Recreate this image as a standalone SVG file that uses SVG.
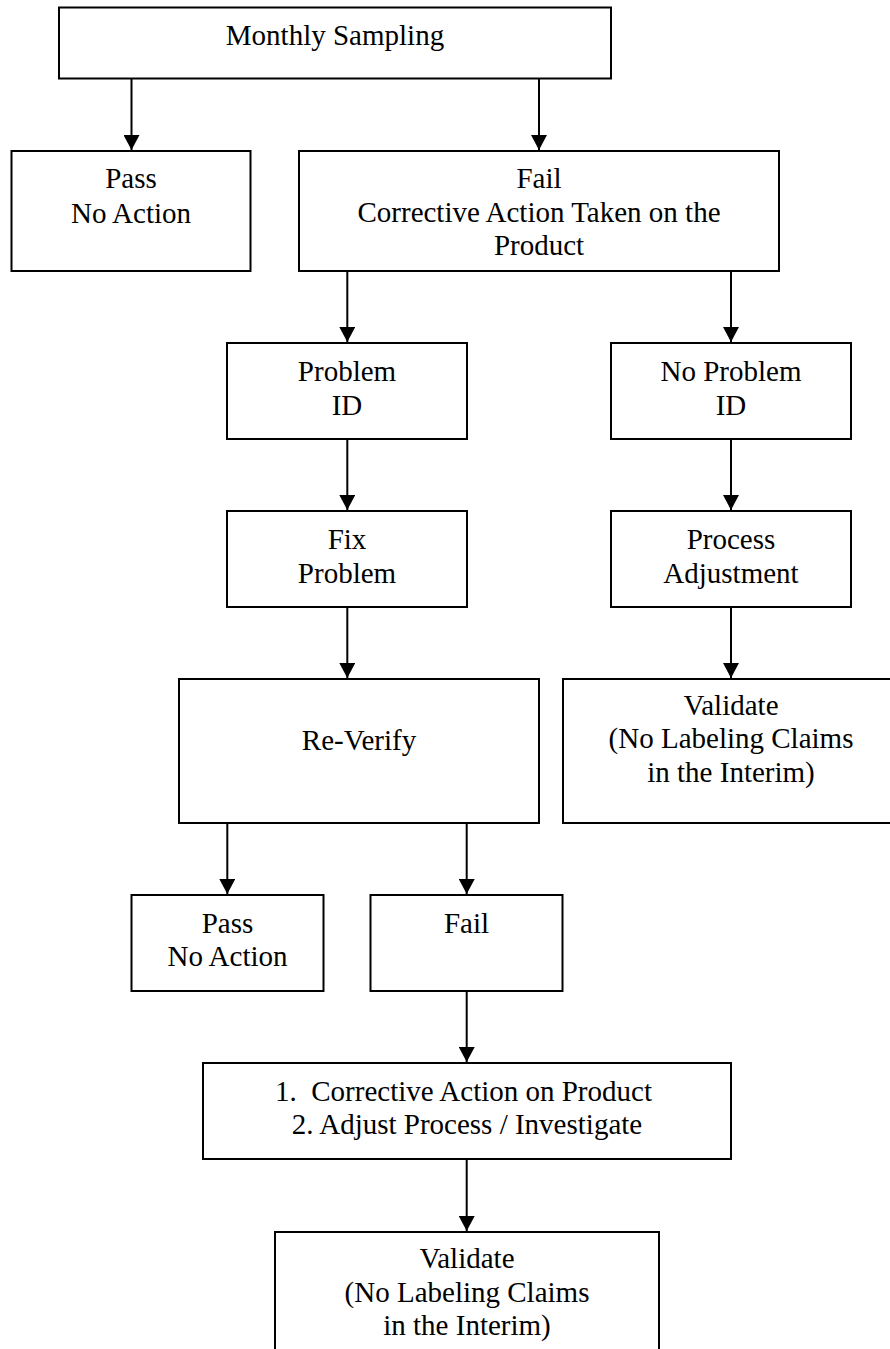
<svg xmlns="http://www.w3.org/2000/svg" width="890" height="1349" viewBox="0 0 890 1349">
<style>
.box{fill:#fff;stroke:#000;stroke-width:2}
.t{font-family:"Liberation Serif","Times New Roman",serif;font-size:29px;fill:#000;text-anchor:middle}
.c{stroke:#000;stroke-width:2;fill:none;marker-end:url(#ah)}
</style>
<defs>
<marker id="ah" markerUnits="userSpaceOnUse" viewBox="0 0 15 16" markerWidth="15" markerHeight="16" refX="15" refY="8" orient="auto">
<path d="M0,0 L15,8 L0,16 z" fill="#000"/>
</marker>
</defs>
<rect width="890" height="1349" fill="#fff"/>
<g id="connectors">
<line class="c" x1="131.5" y1="79" x2="131.5" y2="150"/>
<line class="c" x1="539" y1="79" x2="539" y2="150"/>
<line class="c" x1="347.3" y1="271" x2="347.3" y2="342"/>
<line class="c" x1="731" y1="271" x2="731" y2="342"/>
<line class="c" x1="347.3" y1="439" x2="347.3" y2="510"/>
<line class="c" x1="731" y1="439" x2="731" y2="510"/>
<line class="c" x1="347.3" y1="607" x2="347.3" y2="678"/>
<line class="c" x1="731" y1="607" x2="731" y2="678"/>
<line class="c" x1="227.3" y1="823" x2="227.3" y2="894"/>
<line class="c" x1="466.7" y1="823" x2="466.7" y2="894"/>
<line class="c" x1="466.7" y1="991" x2="466.7" y2="1062"/>
<line class="c" x1="466.7" y1="1159" x2="466.7" y2="1231"/>
</g>
<g id="monthly">
<rect class="box" x="59" y="7.5" width="552" height="71"/>
<text class="t" x="335" y="45">Monthly Sampling</text>
</g>
<g id="pass1">
<rect class="box" x="11.5" y="151" width="239" height="120"/>
<text class="t" x="131" y="188">Pass</text>
<text class="t" x="131" y="222.5">No Action</text>
</g>
<g id="fail1">
<rect class="box" x="299" y="151" width="480" height="120"/>
<text class="t" x="539" y="188">Fail</text>
<text class="t" x="539" y="221.5">Corrective Action Taken on the</text>
<text class="t" x="539" y="255">Product</text>
</g>
<g id="problem-id">
<rect class="box" x="227" y="343" width="240" height="96"/>
<text class="t" x="347" y="381">Problem</text>
<text class="t" x="347" y="415">ID</text>
</g>
<g id="no-problem-id">
<rect class="box" x="611" y="343" width="240" height="96"/>
<text class="t" x="731" y="381">No Problem</text>
<text class="t" x="731" y="415">ID</text>
</g>
<g id="fix-problem">
<rect class="box" x="227" y="511" width="240" height="96"/>
<text class="t" x="347" y="549">Fix</text>
<text class="t" x="347" y="582.5">Problem</text>
</g>
<g id="process-adjustment">
<rect class="box" x="611" y="511" width="240" height="96"/>
<text class="t" x="731" y="549">Process</text>
<text class="t" x="731" y="582.5">Adjustment</text>
</g>
<g id="re-verify">
<rect class="box" x="179" y="679" width="360" height="144"/>
<text class="t" x="359" y="750">Re-Verify</text>
</g>
<g id="validate1">
<rect class="box" x="563" y="679" width="336" height="144"/>
<text class="t" x="731" y="714.5">Validate</text>
<text class="t" x="731" y="748">(No Labeling Claims</text>
<text class="t" x="731" y="781.5">in the Interim)</text>
</g>
<g id="pass2">
<rect class="box" x="131.5" y="895" width="192" height="96"/>
<text class="t" x="227.5" y="933">Pass</text>
<text class="t" x="227.5" y="966">No Action</text>
</g>
<g id="fail2">
<rect class="box" x="370.5" y="895" width="192" height="96"/>
<text class="t" x="466.5" y="933">Fail</text>
</g>
<g id="corrective">
<rect class="box" x="203" y="1063" width="528" height="96"/>
<text class="t" x="463.5" y="1101" xml:space="preserve">1.  Corrective Action on Product</text>
<text class="t" x="467" y="1134">2. Adjust Process / Investigate</text>
</g>
<g id="validate2">
<rect class="box" x="275" y="1232" width="384" height="140"/>
<text class="t" x="467" y="1268">Validate</text>
<text class="t" x="467" y="1301.5">(No Labeling Claims</text>
<text class="t" x="467" y="1335">in the Interim)</text>
</g>
</svg>
